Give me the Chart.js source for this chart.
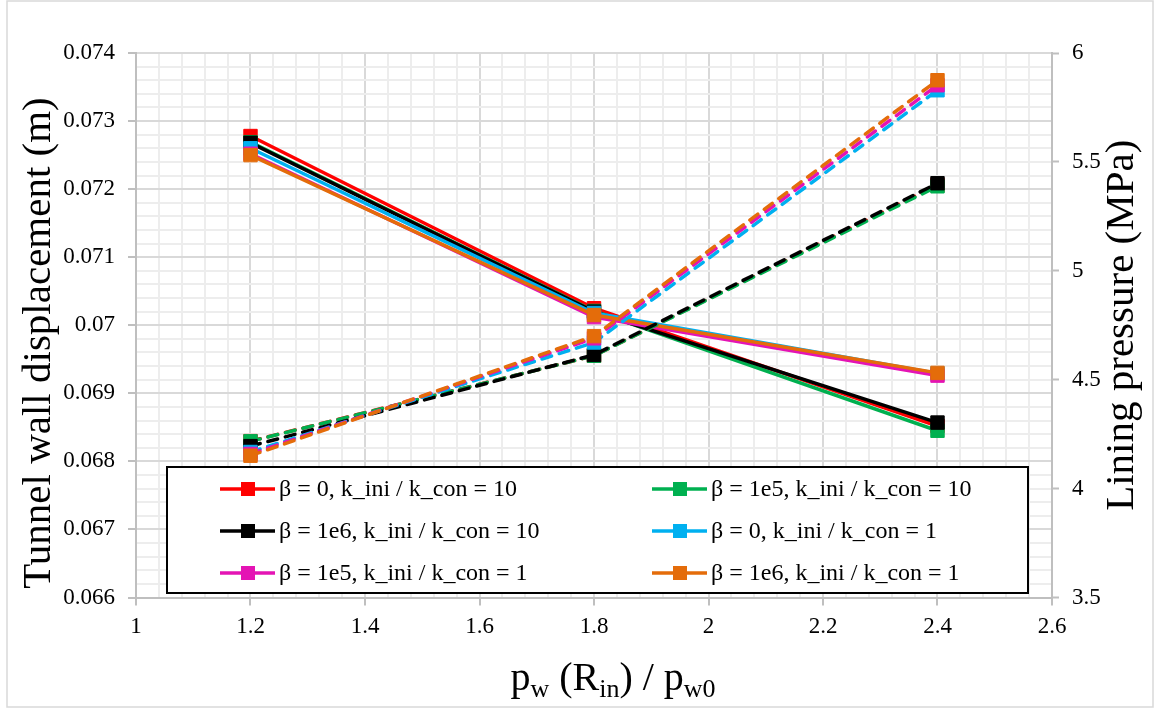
<!DOCTYPE html>
<html>
<head>
<meta charset="utf-8">
<title>Tunnel wall displacement and lining pressure</title>
<script src="https://cdn.jsdelivr.net/npm/chart.js@4.4.1/dist/chart.umd.min.js"></script>
<style>
  html, body { margin: 0; padding: 0; background: #ffffff; }
  #wrap { width: 1158px; height: 709px; position: relative; }
</style>
</head>
<body>
<div id="wrap"><canvas id="pressure_chart" width="1158" height="709"></canvas></div>
<script>
// x values: p_w(R_in) / p_w0
const pressureRatio = [1.2, 1.8, 2.4];

const seriesNames = [
  "β = 0, k_ini / k_con = 10",
  "β = 1e5, k_ini / k_con = 10",
  "β = 1e6, k_ini / k_con = 10",
  "β = 0, k_ini / k_con = 1",
  "β = 1e5, k_ini / k_con = 1",
  "β = 1e6, k_ini / k_con = 1",
];
const seriesColors = ["#ff0000", "#00b050", "#000000", "#00b0f0", "#e414b4", "#e46c0a"];

// tunnel wall displacement (m), solid lines, left axis
const disp_b0_k10 = [0.07278, 0.07025, 0.06852];
const disp_b1e5_k10 = [0.07269, 0.07021, 0.06845];
const disp_b1e6_k10 = [0.07268, 0.0702, 0.06857];
const disp_b0_k1 = [0.0726, 0.07018, 0.06929];
const disp_b1e5_k1 = [0.07252, 0.07012, 0.06926];
const disp_b1e6_k1 = [0.0725, 0.07015, 0.0693];

// lining pressure (MPa), dashed lines, right axis
const lining_b0_k10 = [4.218, 4.61, 5.394];
const lining_b1e5_k10 = [4.217, 4.61, 5.388];
const lining_b1e6_k10 = [4.195, 4.614, 5.402];
const lining_b0_k1 = [4.168, 4.671, 5.829];
const lining_b1e5_k1 = [4.159, 4.69, 5.852];
const lining_b1e6_k1 = [4.151, 4.7, 5.875];

const dispSeries = [disp_b0_k10, disp_b1e5_k10, disp_b1e6_k10, disp_b0_k1, disp_b1e5_k1, disp_b1e6_k1];
const liningSeries = [lining_b0_k10, lining_b1e5_k10, lining_b1e6_k10, lining_b0_k1, lining_b1e5_k1, lining_b1e6_k1];

const SERIF = "'Liberation Serif', 'Times New Roman', serif";
const MAJOR_GRID = "#d9d9d9";
const MINOR_GRID = "#ededed";
const AXIS_GRAY = "#bfbfbf";

function toPoints(values) {
  return pressureRatio.map((p, j) => ({ x: p, y: values[j] }));
}

function lineSet(i, values, axis, dashed) {
  return {
    label: seriesNames[i],
    data: toPoints(values),
    yAxisID: axis,
    borderColor: seriesColors[i],
    backgroundColor: seriesColors[i],
    pointBorderColor: seriesColors[i],
    pointBackgroundColor: seriesColors[i],
    borderWidth: 3.5,
    borderDash: dashed ? [10, 8] : [],
    borderCapStyle: dashed ? "round" : "butt",
    pointStyle: "rect",
    pointRadius: 9.5,
    pointBorderWidth: 1,
    tension: 0,
    // later series sit on top
    order: (dashed ? 50 : 100) - i,
  };
}

const datasets = [];
dispSeries.forEach((vals, i) => datasets.push(lineSet(i, vals, "y", false)));
liningSeries.forEach((vals, i) => datasets.push(lineSet(i, vals, "y2", true)));

function trimNum(v, digits) {
  return String(Number(v.toFixed(digits)));
}

const minorGrid = (every) => ({
  color: (c) => (c.index % every === 0 ? MAJOR_GRID : MINOR_GRID),
  lineWidth: 2,
  tickColor: (c) => (c.index % every === 0 ? AXIS_GRAY : "rgba(0,0,0,0)"),
  tickWidth: 2,
  tickLength: 8,
});

// white page, outer frame
const chartFrame = {
  id: "chartFrame",
  beforeDraw(chart) {
    const c = chart.ctx;
    c.save();
    c.fillStyle = "#ffffff";
    c.fillRect(0, 0, chart.width, chart.height);
    c.restore();
  },
  afterDraw(chart) {
    const c = chart.ctx;
    c.save();
    c.strokeStyle = "#d9d9d9";
    c.lineWidth = 1.5;
    c.strokeRect(7, 1, 1146, 706);
    c.restore();
  },
};

// axis titles, with subscripts on the x title
const axisTitles = {
  id: "axisTitles",
  afterDraw(chart) {
    const c = chart.ctx;
    const area = chart.chartArea;
    c.save();
    c.fillStyle = "#000000";
    c.textAlign = "center";
    c.textBaseline = "alphabetic";
    c.font = "41px " + SERIF;

    c.save();
    c.translate(50, 343);
    c.rotate(-Math.PI / 2);
    c.fillText("Tunnel wall displacement (m)", 0, 0);
    c.restore();

    c.save();
    c.translate(1133, (area.top + area.bottom) / 2);
    c.rotate(-Math.PI / 2);
    c.fillText("Lining pressure (MPa)", 0, 0);
    c.restore();

    const parts = [
      ["p", false], ["w", true], [" (R", false], ["in", true],
      [") / p", false], ["w0", true],
    ];
    const big = "40px " + SERIF;
    const small = "26px " + SERIF;
    let total = 0;
    parts.forEach(([t, sub]) => {
      c.font = sub ? small : big;
      total += c.measureText(t).width;
    });
    let x = 613 - total / 2;
    const base = 690;
    c.textAlign = "left";
    parts.forEach(([t, sub]) => {
      c.font = sub ? small : big;
      c.fillText(t, x, sub ? base + 7 : base);
      x += c.measureText(t).width;
    });
    c.restore();
  },
};

// boxed two-column legend inside the plot
const boxLegend = {
  id: "boxLegend",
  afterDraw(chart) {
    const c = chart.ctx;
    const box = { x: 167, y: 467, w: 861, h: 126 };
    c.save();
    c.fillStyle = "#ffffff";
    c.fillRect(box.x, box.y, box.w, box.h);
    c.strokeStyle = "#000000";
    c.lineWidth = 2;
    c.strokeRect(box.x, box.y, box.w, box.h);

    const rows = [489, 531, 573];
    const cols = [{ line: 220, text: 279 }, { line: 652, text: 711 }];
    c.font = "24px " + SERIF;
    c.textBaseline = "middle";
    c.textAlign = "left";
    seriesNames.forEach((name, i) => {
      const col = cols[i % 2];
      const y = rows[Math.floor(i / 2)];
      c.strokeStyle = seriesColors[i];
      c.fillStyle = seriesColors[i];
      c.lineWidth = 3.5;
      c.beginPath();
      c.moveTo(col.line, y);
      c.lineTo(col.line + 55, y);
      c.stroke();
      c.fillRect(col.line + 21, y - 7, 14, 14);
      c.fillStyle = "#000000";
      c.fillText(name, col.text, y + 1);
    });
    c.restore();
  },
};

const ctx = document.getElementById("pressure_chart").getContext("2d");

const my_chart = new Chart(ctx, {
  type: "line",
  data: { datasets: datasets },
  plugins: [chartFrame, axisTitles, boxLegend],
  options: {
    responsive: false,
    animation: false,
    events: [],
    layout: { padding: { top: 53, left: 0, right: 0, bottom: 0 } },
    plugins: {
      legend: { display: false },
      tooltip: { enabled: false },
    },
    scales: {
      x: {
        type: "linear",
        min: 1,
        max: 2.6,
        ticks: {
          stepSize: 0.04,
          autoSkip: false,
          maxRotation: 0,
          padding: 8,
          color: "#000000",
          font: { family: SERIF, size: 23 },
          callback: (v, i) => (i % 5 === 0 ? trimNum(v, 2) : ""),
        },
        grid: minorGrid(5),
        border: { display: true, color: AXIS_GRAY, width: 2 },
        afterFit: (s) => { s.height = 111.5; },
      },
      y: {
        position: "left",
        min: 0.066,
        max: 0.074,
        ticks: {
          stepSize: 0.0002,
          autoSkip: false,
          padding: 13,
          color: "#000000",
          font: { family: SERIF, size: 23 },
          callback: (v, i) => (i % 5 === 0 ? trimNum(v, 4) : ""),
        },
        grid: minorGrid(5),
        border: { display: true, color: AXIS_GRAY, width: 2 },
        afterFit: (s) => { s.width = 136; },
      },
      y2: {
        position: "right",
        min: 3.5,
        max: 6,
        ticks: {
          stepSize: 0.5,
          padding: 13,
          color: "#000000",
          font: { family: SERIF, size: 23 },
          callback: (v) => trimNum(v, 1),
        },
        grid: {
          drawOnChartArea: false,
          tickColor: AXIS_GRAY,
          tickWidth: 2,
          tickLength: 7,
        },
        border: { display: true, color: AXIS_GRAY, width: 2 },
        afterFit: (s) => { s.width = 106; },
      },
    },
  },
});
</script>
</body>
</html>
